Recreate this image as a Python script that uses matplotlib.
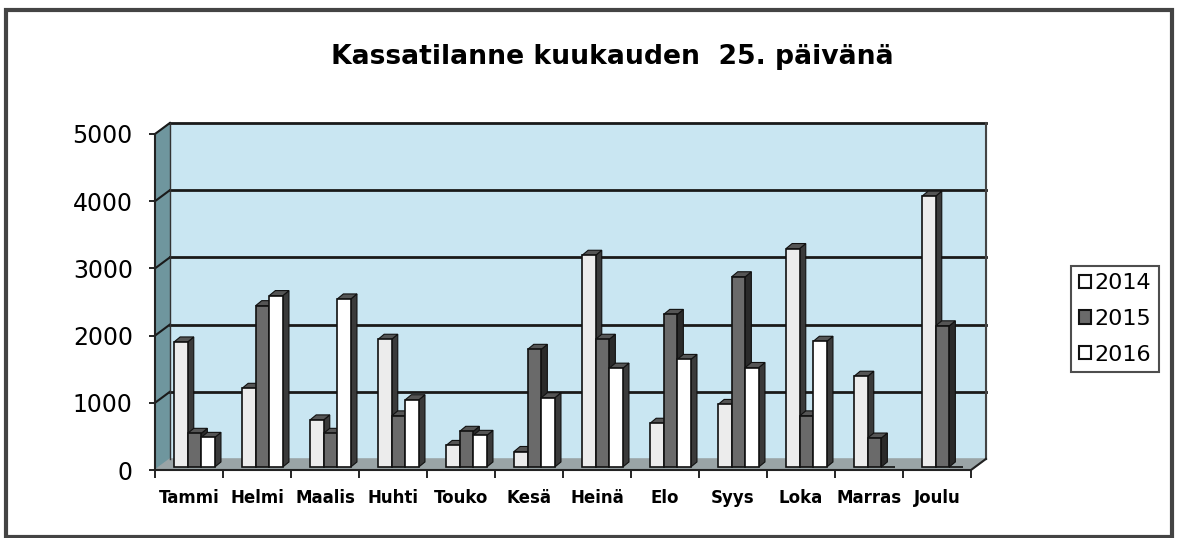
import numpy as np
import matplotlib
matplotlib.use('Agg')
import matplotlib.pyplot as plt
from matplotlib.patches import Patch, Rectangle

plt.rcParams['font.family'] = ['DejaVu Sans']

# data
months = ['Tammi', 'Helmi', 'Maalis', 'Huhti', 'Touko', 'Kesä',
          'Heinä', 'Elo', 'Syys', 'Loka', 'Marras', 'Joulu']
years = ['2014', '2015', '2016']
v2014 = [1860, 1170, 700, 1900, 320, 230, 3150, 650, 930, 3250, 1350, 4030]
v2015 = [500, 2400, 500, 760, 530, 1750, 1900, 2270, 2830, 760, 430, 2100]
v2016 = [440, 2550, 2500, 1000, 470, 1030, 1470, 1600, 1480, 1870, 0, 0]
series = [v2014, v2015, v2016]
front_cols = ['#ececec', '#6a6a6a', '#ffffff']
side_cols = ['#3a3a3a', '#2a2a2a', '#3a3a3a']
yticks = [0, 1000, 2000, 3000, 4000, 5000]

W, H = 1179, 538
fig = plt.figure(figsize=(W / 100, H / 100), dpi=100)
ax = fig.add_axes([155 / W, (H - 470) / H, 816 / W, 336 / H])
ax.set_xlim(-0.5, 11.5)
ax.set_ylim(0, 5000)
ax.set_facecolor('none')
for s in ax.spines.values():
    s.set_visible(False)

# 3d offsets (back wall, bar depth, bar shift)
dx, dy = 0.22, 165
bdx, bdy = 0.09, 75
sx, sy = 0.05, 45

x0, x1 = -0.5, 11.5
wall = '#c9e6f2'
ax.fill([x0 + dx, x1 + dx, x1 + dx, x0 + dx], [dy, dy, 5000 + dy, 5000 + dy],
        color=wall, zorder=0, clip_on=False)
ax.fill([x0, x0 + dx, x0 + dx, x0], [0, dy, 5000 + dy, 5000],
        color='#6f969e', zorder=1, clip_on=False)
ax.fill([x0, x1, x1 + dx, x0 + dx], [0, 0, dy, dy],
        color='#9aa4a6', zorder=1, clip_on=False)
for k in yticks[1:]:
    ax.plot([x0 + dx, x1 + dx], [k + dy, k + dy], color='#1a1a1a', lw=2, zorder=2, clip_on=False)
    ax.plot([x0, x0 + dx], [k, k + dy], color='#1a1a1a', lw=1.5, zorder=2, clip_on=False)
ax.plot([x1 + dx, x1 + dx], [dy, 5000 + dy], color='#444', lw=1.5, zorder=2, clip_on=False)
ax.plot([x0 + dx, x0 + dx], [dy, 5000 + dy], color='#333', lw=1, zorder=2, clip_on=False)
ax.plot([x0, x0], [0, 5000], color='#222', lw=1.5, zorder=2, clip_on=False)
ax.plot([x0, x1, x1 + dx], [0, 0, dy], color='#222', lw=1.5, zorder=2, clip_on=False)

# bars
w = 0.2
x = np.arange(len(months))
for j, vals in enumerate(series):
    xs = x - 0.27 + j * w + sx
    for i, (xi, v) in enumerate(zip(xs, vals)):
        if v <= 0:
            continue
        z = 3 + i * 3 + j
        # side face
        ax.fill([xi + w, xi + w + bdx, xi + w + bdx, xi + w],
                [sy, sy + bdy, sy + v + bdy, sy + v],
                color=side_cols[j], ec='#111', lw=0.8, zorder=z)
        # top face
        ax.fill([xi, xi + w, xi + w + bdx, xi + bdx],
                [sy + v, sy + v, sy + v + bdy, sy + v + bdy],
                color='#555555', ec='#111', lw=0.8, zorder=z)
    ax.bar(xs, vals, width=w, bottom=sy, align='edge', color=front_cols[j],
           edgecolor='#111', linewidth=1.2, zorder=80 + j)

ax.set_yticks(yticks)
ax.set_yticklabels([str(t) for t in yticks], fontsize=17)
ax.tick_params(axis='y', length=4, width=1.2, pad=12)
ax.set_xticks(x)
ax.set_xticklabels(months, fontsize=12, fontweight='bold')
ax.set_xticks(np.arange(13) - 0.5, minor=True)
ax.tick_params(axis='x', which='major', length=0, pad=14)
ax.tick_params(axis='x', which='minor', length=6, width=1.2)

fig.text(612 / W, 1 - 57 / H, 'Kassatilanne kuukauden  25. päivänä',
         ha='center', va='center', fontsize=19.2, fontweight='bold')

handles = [Patch(facecolor=c, edgecolor='#111', linewidth=1.5) for c in ['#ffffff', '#6a6a6a', '#ffffff']]
leg = fig.legend(handles, years, loc='center', bbox_to_anchor=(1115 / W, 1 - 319 / H),
                 fontsize=16, frameon=True, fancybox=False, edgecolor='#222',
                 handlelength=0.55, handleheight=0.55, handletextpad=0.15,
                 labelspacing=0.7, borderpad=0.35, borderaxespad=0)
leg.get_frame().set_linewidth(1.5)

fig.patches.append(Rectangle((6 / W, 1 / H), 1166 / W, 527 / H, transform=fig.transFigure,
                             fill=False, edgecolor='#444', linewidth=3))

fig.savefig('out.png', dpi=100)
